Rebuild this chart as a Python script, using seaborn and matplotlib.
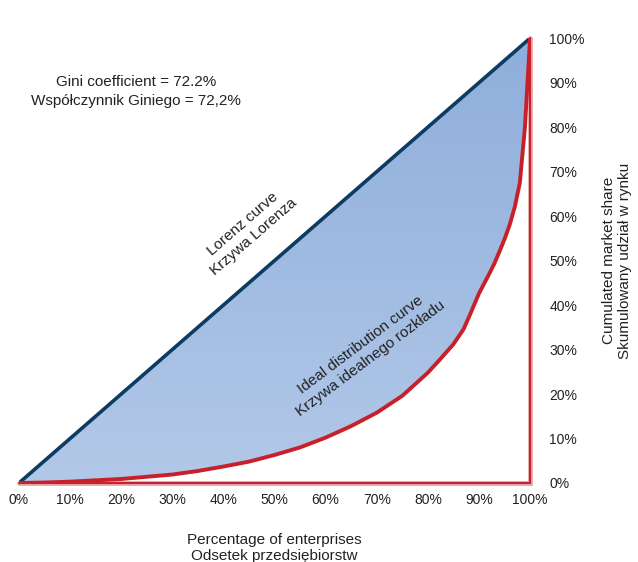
import numpy as np
import pandas as pd
import matplotlib
matplotlib.use('Agg')
import matplotlib.pyplot as plt
import matplotlib.patheffects as pe
import seaborn as sns

# %% data (percent)
share_ent = [0, 5, 10, 15, 20, 25, 30, 35, 40, 45, 50, 55, 60, 65, 70, 75, 80, 82, 85, 87, 88, 90,
             92, 93, 94, 95, 96, 97, 98, 99, 100]
share_mkt = [0, 0.1, 0.3, 0.6, 0.9, 1.4, 1.9, 2.7, 3.7, 4.8, 6.3, 8.0, 10.2, 12.8, 15.8, 19.6, 24.8,
             27.3, 31.2, 34.6, 37.2, 42.6, 47.0, 49.3, 52.0, 54.8, 58.0, 62.0, 67.5, 80.0, 100.0]
diag_x = [0, 100]
diag_y = [0, 100]
ticks = list(range(0, 101, 10))
tick_labels = [str(t) + '%' for t in ticks]

df = pd.DataFrame({'x': share_ent, 'y': share_mkt})
diag = pd.DataFrame({'x': diag_x, 'y': diag_y})

sns.set_theme(style='white')
plt.rcParams['font.family'] = ['Liberation Sans', 'DejaVu Sans']

fig = plt.figure(figsize=(6.38, 5.62), dpi=100)
ax = fig.add_axes([0.0298, 0.1406, 0.801, 0.7914])

# gradient fill between the diagonal and the curve
grad = np.linspace(0, 1, 256).reshape(-1, 1)
cmap = matplotlib.colors.LinearSegmentedColormap.from_list('bl', ['#b2c8e8', '#8eaedb'])
img = ax.imshow(grad, extent=[0, 100, 0, 100], origin='lower', cmap=cmap, aspect='auto', zorder=1)
clip = matplotlib.patches.Polygon(np.vstack([np.column_stack([df['x'], df['y']]),
                                             [[100, 100], [0, 0]]]),
                                  closed=True, transform=ax.transData, facecolor='none', edgecolor='none')
ax.add_patch(clip)
img.set_clip_path(clip)

# frame lines along the bottom and the right edge
edge_fx = [pe.Stroke(linewidth=3.4, foreground='#e3a0a6'), pe.Normal()]
ax.plot([0, 100, 100], [0, 0, 100], color='#c8202a', lw=1.4, zorder=2,
        path_effects=edge_fx, solid_joinstyle='miter', clip_on=False)

sns.lineplot(data=diag, x='x', y='y', ax=ax, color='#0c3c62', lw=2.6, zorder=3)
sns.lineplot(data=df, x='x', y='y', ax=ax, color='#c8202a', lw=2.8, zorder=4, sort=False)

ax.set_xlim(0, 100)
ax.set_ylim(0, 100)
for s in ax.spines.values():
    s.set_visible(False)

ax.set_xticks(ticks)
ax.set_xticklabels(tick_labels, fontsize=10, color='#222222')
ax.yaxis.tick_right()
ax.set_yticks(ticks)
ax.set_yticklabels(tick_labels, fontsize=10, color='#222222')
ax.tick_params(axis='both', length=0)
ax.tick_params(axis='x', pad=7)
ax.tick_params(axis='y', pad=14)

ax.set_xlabel('Percentage of enterprises\nOdsetek przedsiębiorstw', fontsize=11, color='#222222',
              labelpad=19, linespacing=1.15)
ax.yaxis.set_label_position('right')
ax.set_ylabel('Cumulated market share\nSkumulowany udział w rynku', fontsize=11, color='#222222',
              labelpad=12, linespacing=1.25)

ax.text(22.9, 88.0, 'Gini coefficient = 72.2%\nWspółczynnik Giniego = 72,2%', ha='center', va='center',
        fontsize=11, color='#222222', linespacing=1.45)
ax.text(44.9, 56.8, 'Lorenz curve\nKrzywa Lorenza', ha='center', va='center', rotation=41,
        fontsize=11, color='#222222', linespacing=1.3, rotation_mode='anchor')
ax.text(67.8, 29.6, 'Ideal distribution curve\nKrzywa idealnego rozkładu', ha='center', va='center',
        rotation=37, fontsize=11, color='#222222', linespacing=1.3, rotation_mode='anchor')

ax.grid(False)
plt.savefig('out.png', dpi=100)
